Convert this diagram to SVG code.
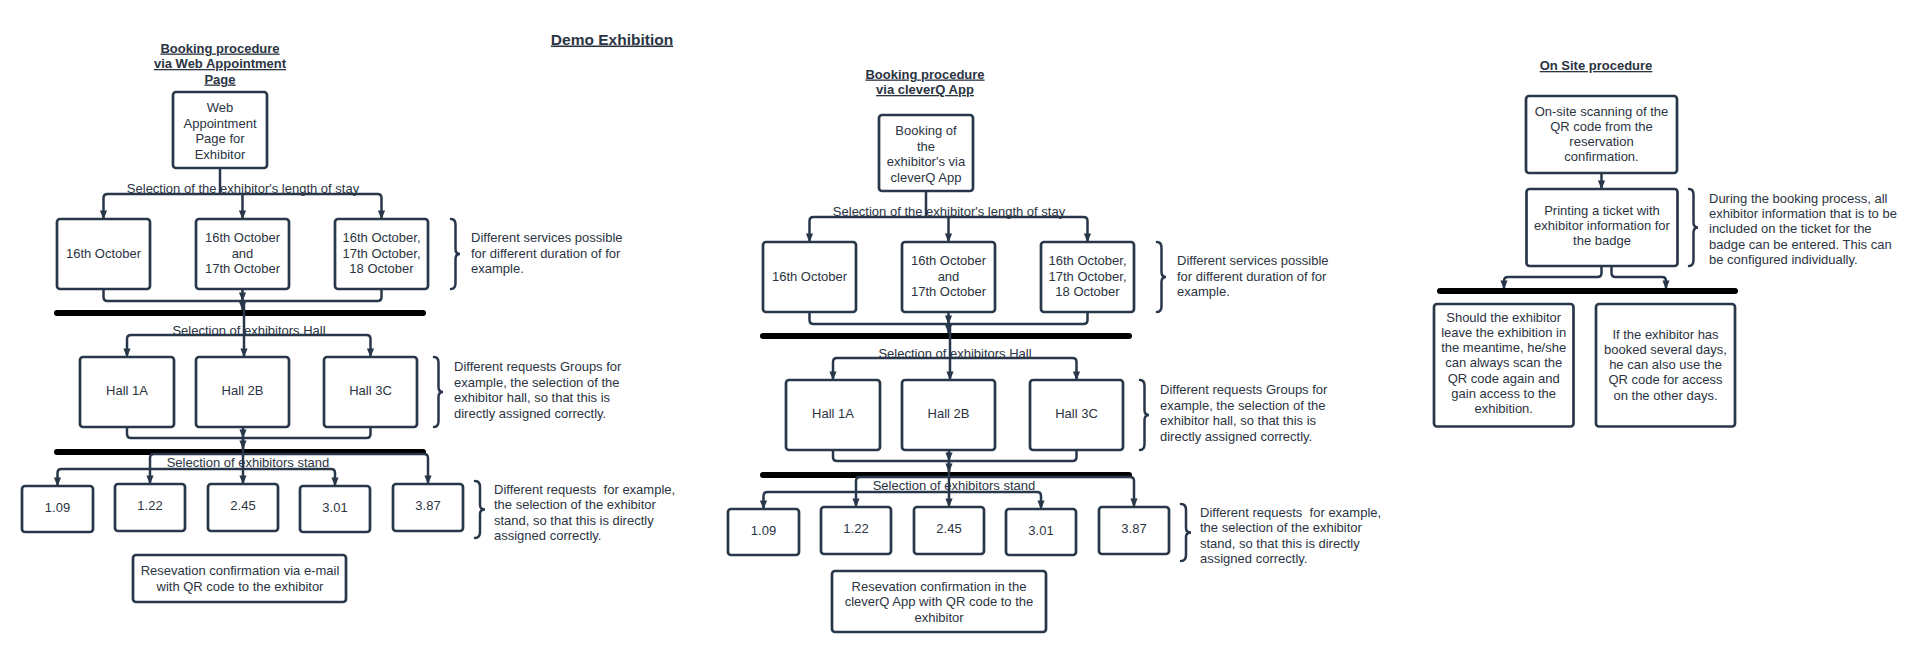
<svg xmlns="http://www.w3.org/2000/svg" width="1920" height="655" viewBox="0 0 1920 655">
<style>
.box{fill:#fff;stroke:#29374a;stroke-width:2.7}
.c{fill:none;stroke:#29374a;stroke-width:2.5;stroke-linejoin:round}
.a{marker-end:url(#arr)}
.bar{stroke:#000;stroke-width:6;stroke-linecap:round}
.br{fill:none;stroke:#29374a;stroke-width:2.5;stroke-linecap:round}
text{font-family:"Liberation Sans",Arial,sans-serif;font-size:13px;fill:#2b3442}
.m{text-anchor:middle}
.t{font-weight:bold;text-decoration:underline}
</style>
<defs>
<marker id="arr" viewBox="0 0 10 8" refX="9.5" refY="4" markerWidth="9" markerHeight="8" markerUnits="userSpaceOnUse" orient="auto"><path d="M0,0 L10,4 L0,8 z" fill="#29374a"/></marker>
</defs>
<rect width="1920" height="655" fill="#fff"/>
<g id="title"><text x="612" y="44.5" class="m t" style="font-size:15.5px">Demo Exhibition</text></g>

<!-- LEFT SECTION -->
<g id="left">
<g id="connectors-left">
<path class="c" d="M220,168 V194"/>
<path class="c a" d="M220,194 H107.5 Q103.5,194 103.5,198 V219"/>
<path class="c a" d="M220,194 H377.5 Q381.5,194 381.5,198 V219"/>
<path class="c a" d="M242.5,194 V219"/>
<path class="c" d="M103.5,289 V297 Q103.5,301 107.5,301 H242.5"/>
<path class="c" d="M381.5,289 V297 Q381.5,301 377.5,301 H242.5"/>
<path class="c a" d="M242.5,289 V301"/>
<path class="c a" d="M242.5,301 V310"/>
<line class="bar" x1="57" y1="313" x2="423" y2="313"/>
<path class="c a" d="M244,301 V357"/>
<path class="c a" d="M244,335 H131 Q127,335 127,339 V357"/>
<path class="c a" d="M244,335 H366.5 Q370.5,335 370.5,339 V357"/>
<path class="c" d="M127,427 V434 Q127,438 131,438 H243"/>
<path class="c" d="M370.5,427 V434 Q370.5,438 366.5,438 H243"/>
<path class="c a" d="M243,427 V438"/>
<path class="c a" d="M243,438 V449"/>
<line class="bar" x1="57" y1="452" x2="423" y2="452"/>
<path class="c a" d="M243,438 V484"/>
<path class="c a" d="M243,454 H154 Q150,454 150,458 V484"/>
<path class="c a" d="M243,454 H424 Q428,454 428,458 V484"/>
<path class="c a" d="M243,469 H61.5 Q57.5,469 57.5,473 V486"/>
<path class="c a" d="M243,469 H331 Q335,469 335,473 V486"/>
<path class="br" d="M451,219 Q455.5,219 455.5,225 L455.5,249 Q455.5,254 460,254 Q455.5,254 455.5,259 L455.5,283 Q455.5,289 451,289"/>
<path class="br" d="M434,357 Q438.5,357 438.5,363 L438.5,387 Q438.5,392 443,392 Q438.5,392 438.5,397 L438.5,421 Q438.5,427 434,427"/>
<path class="br" d="M475,481 Q480,481 480,487 L480,505 Q480,509.5 485,509.5 Q480,509.5 480,514 L480,532 Q480,538 475,538"/>
<text x="243" y="193" class="m">Selection of the exhibitor's length of stay</text>
<text x="249" y="335" class="m">Selection of exhibitors Hall</text>
<text x="248" y="467" class="m">Selection of exhibitors stand</text>
</g>
<g id="left-heading"><text class="m t" x="220" y="52.5">Booking procedure</text><text class="m t" x="220" y="68">via Web Appointment</text><text class="m t" x="220" y="83.5">Page</text></g>
<g id="web-page"><rect class="box" x="173" y="92" width="94" height="76" rx="3"/><text class="m" x="220" y="112">Web</text><text class="m" x="220" y="127.5">Appointment</text><text class="m" x="220" y="143">Page for</text><text class="m" x="220" y="158.5">Exhibitor</text></g>
<g id="l-day1"><rect class="box" x="57" y="219" width="93" height="70" rx="3"/><text class="m" x="103.5" y="258">16th October</text></g>
<g id="l-day2"><rect class="box" x="196" y="219" width="93" height="70" rx="3"/><text class="m" x="242.5" y="242">16th October</text><text class="m" x="242.5" y="257.5">and</text><text class="m" x="242.5" y="273">17th October</text></g>
<g id="l-day3"><rect class="box" x="335" y="219" width="93" height="70" rx="3"/><text class="m" x="381.5" y="242">16th October,</text><text class="m" x="381.5" y="257.5">17th October,</text><text class="m" x="381.5" y="273">18 October</text></g>
<g id="l-note1"><text x="471" y="242">Different services possible</text><text x="471" y="257.5">for different duration of for</text><text x="471" y="273">example.</text></g>
<g id="l-hall1"><rect class="box" x="80" y="357" width="94" height="70" rx="3"/><text class="m" x="127" y="395">Hall 1A</text></g>
<g id="l-hall2"><rect class="box" x="196" y="357" width="93" height="70" rx="3"/><text class="m" x="242.5" y="395">Hall 2B</text></g>
<g id="l-hall3"><rect class="box" x="324" y="357" width="93" height="70" rx="3"/><text class="m" x="370.5" y="395">Hall 3C</text></g>
<g id="l-note2"><text x="454" y="371">Different requests Groups for</text><text x="454" y="386.5">example, the selection of the</text><text x="454" y="402">exhibitor hall, so that this is</text><text x="454" y="417.5">directly assigned correctly.</text></g>
<g id="l-s109"><rect class="box" x="22" y="486" width="71" height="46" rx="3"/><text class="m" x="57.5" y="511.5">1.09</text></g>
<g id="l-s122"><rect class="box" x="115" y="484" width="70" height="47" rx="3"/><text class="m" x="150" y="510">1.22</text></g>
<g id="l-s245"><rect class="box" x="208" y="484" width="70" height="47" rx="3"/><text class="m" x="243" y="510">2.45</text></g>
<g id="l-s301"><rect class="box" x="300" y="486" width="70" height="46" rx="3"/><text class="m" x="335" y="511.5">3.01</text></g>
<g id="l-s387"><rect class="box" x="393" y="484" width="70" height="47" rx="3"/><text class="m" x="428" y="510">3.87</text></g>
<g id="l-note3"><text x="494" y="493.5">Different requests&#160; for example,</text><text x="494" y="509">the selection of the exhibitor</text><text x="494" y="524.5">stand, so that this is directly</text><text x="494" y="540">assigned correctly.</text></g>
<g id="l-confirm"><rect class="box" x="133" y="555" width="213" height="47" rx="3"/><text class="m" x="240" y="575">Resevation confirmation via e-mail</text><text class="m" x="240" y="590.5">with QR code to the exhibitor</text></g>
</g>

<!-- MIDDLE SECTION -->
<g id="middle" transform="translate(706,23)">
<g id="connectors-middle">
<path class="c" d="M220,168 V194"/>
<path class="c a" d="M220,194 H107.5 Q103.5,194 103.5,198 V219"/>
<path class="c a" d="M220,194 H377.5 Q381.5,194 381.5,198 V219"/>
<path class="c a" d="M242.5,194 V219"/>
<path class="c" d="M103.5,289 V297 Q103.5,301 107.5,301 H242.5"/>
<path class="c" d="M381.5,289 V297 Q381.5,301 377.5,301 H242.5"/>
<path class="c a" d="M242.5,289 V301"/>
<path class="c a" d="M242.5,301 V310"/>
<line class="bar" x1="57" y1="313" x2="423" y2="313"/>
<path class="c a" d="M244,301 V357"/>
<path class="c a" d="M244,335 H131 Q127,335 127,339 V357"/>
<path class="c a" d="M244,335 H366.5 Q370.5,335 370.5,339 V357"/>
<path class="c" d="M127,427 V434 Q127,438 131,438 H243"/>
<path class="c" d="M370.5,427 V434 Q370.5,438 366.5,438 H243"/>
<path class="c a" d="M243,427 V438"/>
<path class="c a" d="M243,438 V449"/>
<line class="bar" x1="57" y1="452" x2="423" y2="452"/>
<path class="c a" d="M243,438 V484"/>
<path class="c a" d="M243,454 H154 Q150,454 150,458 V484"/>
<path class="c a" d="M243,454 H424 Q428,454 428,458 V484"/>
<path class="c a" d="M243,469 H61.5 Q57.5,469 57.5,473 V486"/>
<path class="c a" d="M243,469 H331 Q335,469 335,473 V486"/>
<path class="br" d="M451,219 Q455.5,219 455.5,225 L455.5,249 Q455.5,254 460,254 Q455.5,254 455.5,259 L455.5,283 Q455.5,289 451,289"/>
<path class="br" d="M434,357 Q438.5,357 438.5,363 L438.5,387 Q438.5,392 443,392 Q438.5,392 438.5,397 L438.5,421 Q438.5,427 434,427"/>
<path class="br" d="M475,481 Q480,481 480,487 L480,505 Q480,509.5 485,509.5 Q480,509.5 480,514 L480,532 Q480,538 475,538"/>
<text x="243" y="193" class="m">Selection of the exhibitor's length of stay</text>
<text x="249" y="335" class="m">Selection of exhibitors Hall</text>
<text x="248" y="467" class="m">Selection of exhibitors stand</text>
</g>
<g id="middle-heading"><text class="m t" x="219" y="55.5">Booking procedure</text><text class="m t" x="219" y="71">via cleverQ App</text></g>
<g id="app-booking"><rect class="box" x="173" y="92" width="94" height="76" rx="3"/><text class="m" x="220" y="112">Booking of</text><text class="m" x="220" y="127.5">the</text><text class="m" x="220" y="143">exhibitor's via</text><text class="m" x="220" y="158.5">cleverQ App</text></g>
<g id="m-day1"><rect class="box" x="57" y="219" width="93" height="70" rx="3"/><text class="m" x="103.5" y="258">16th October</text></g>
<g id="m-day2"><rect class="box" x="196" y="219" width="93" height="70" rx="3"/><text class="m" x="242.5" y="242">16th October</text><text class="m" x="242.5" y="257.5">and</text><text class="m" x="242.5" y="273">17th October</text></g>
<g id="m-day3"><rect class="box" x="335" y="219" width="93" height="70" rx="3"/><text class="m" x="381.5" y="242">16th October,</text><text class="m" x="381.5" y="257.5">17th October,</text><text class="m" x="381.5" y="273">18 October</text></g>
<g id="m-note1"><text x="471" y="242">Different services possible</text><text x="471" y="257.5">for different duration of for</text><text x="471" y="273">example.</text></g>
<g id="m-hall1"><rect class="box" x="80" y="357" width="94" height="70" rx="3"/><text class="m" x="127" y="395">Hall 1A</text></g>
<g id="m-hall2"><rect class="box" x="196" y="357" width="93" height="70" rx="3"/><text class="m" x="242.5" y="395">Hall 2B</text></g>
<g id="m-hall3"><rect class="box" x="324" y="357" width="93" height="70" rx="3"/><text class="m" x="370.5" y="395">Hall 3C</text></g>
<g id="m-note2"><text x="454" y="371">Different requests Groups for</text><text x="454" y="386.5">example, the selection of the</text><text x="454" y="402">exhibitor hall, so that this is</text><text x="454" y="417.5">directly assigned correctly.</text></g>
<g id="m-s109"><rect class="box" x="22" y="486" width="71" height="46" rx="3"/><text class="m" x="57.5" y="511.5">1.09</text></g>
<g id="m-s122"><rect class="box" x="115" y="484" width="70" height="47" rx="3"/><text class="m" x="150" y="510">1.22</text></g>
<g id="m-s245"><rect class="box" x="208" y="484" width="70" height="47" rx="3"/><text class="m" x="243" y="510">2.45</text></g>
<g id="m-s301"><rect class="box" x="300" y="486" width="70" height="46" rx="3"/><text class="m" x="335" y="511.5">3.01</text></g>
<g id="m-s387"><rect class="box" x="393" y="484" width="70" height="47" rx="3"/><text class="m" x="428" y="510">3.87</text></g>
<g id="m-note3"><text x="494" y="493.5">Different requests&#160; for example,</text><text x="494" y="509">the selection of the exhibitor</text><text x="494" y="524.5">stand, so that this is directly</text><text x="494" y="540">assigned correctly.</text></g>
</g>
<g id="m-confirm"><rect class="box" x="832" y="571" width="214" height="61" rx="3"/><text class="m" x="939" y="590.5">Resevation confirmation in the</text><text class="m" x="939" y="606">cleverQ App with QR code to the</text><text class="m" x="939" y="621.5">exhibitor</text></g>

<!-- RIGHT SECTION -->
<g id="right">
<g id="connectors-right">
<path class="c a" d="M1601.5,173 V189"/>
<path class="c a" d="M1601.5,266 V273 Q1601.5,277 1597.5,277 H1508 Q1504,277 1504,281 V289"/>
<path class="c a" d="M1611.5,266 V273 Q1611.5,277 1615.5,277 H1662 Q1666,277 1666,281 V289"/>
<line class="bar" x1="1440" y1="291" x2="1735" y2="291"/>
<path class="br" d="M1689,189 Q1693.5,189 1693.5,195 L1693.5,222.5 Q1693.5,227.5 1698,227.5 Q1693.5,227.5 1693.5,232.5 L1693.5,260 Q1693.5,266 1689,266"/>
</g>
<g id="right-heading"><text class="m t" x="1596" y="70">On Site procedure</text></g>
<g id="scan"><rect class="box" x="1526" y="96" width="151" height="77" rx="3"/><text class="m" x="1601.5" y="115.5">On-site scanning of the</text><text class="m" x="1601.5" y="130.8">QR code from the</text><text class="m" x="1601.5" y="146.1">reservation</text><text class="m" x="1601.5" y="161.4">confirmation.</text></g>
<g id="print"><rect class="box" x="1526.5" y="189" width="151" height="77" rx="3"/><text class="m" x="1602" y="214.5">Printing a ticket with</text><text class="m" x="1602" y="229.8">exhibitor information for</text><text class="m" x="1602" y="245.1">the badge</text></g>
<g id="r-note"><text x="1709" y="202.8">During the booking process, all</text><text x="1709" y="218.1">exhibitor information that is to be</text><text x="1709" y="233.4">included on the ticket for the</text><text x="1709" y="248.7">badge can be entered. This can</text><text x="1709" y="264">be configured individually.</text></g>
<g id="leave"><rect class="box" x="1434" y="304" width="139.5" height="122.5" rx="3"/><text class="m" x="1503.7" y="321.5">Should the exhibitor</text><text class="m" x="1503.7" y="336.8">leave the exhibition in</text><text class="m" x="1503.7" y="352.1">the meantime, he/she</text><text class="m" x="1503.7" y="367.4">can always scan the</text><text class="m" x="1503.7" y="382.7">QR code again and</text><text class="m" x="1503.7" y="398">gain access to the</text><text class="m" x="1503.7" y="413.3">exhibition.</text></g>
<g id="several"><rect class="box" x="1596" y="304" width="139" height="122.5" rx="3"/><text class="m" x="1665.5" y="338.5">If the exhibitor has</text><text class="m" x="1665.5" y="353.8">booked several days,</text><text class="m" x="1665.5" y="369.1">he can also use the</text><text class="m" x="1665.5" y="384.4">QR code for access</text><text class="m" x="1665.5" y="399.7">on the other days.</text></g>
</g>
</svg>
